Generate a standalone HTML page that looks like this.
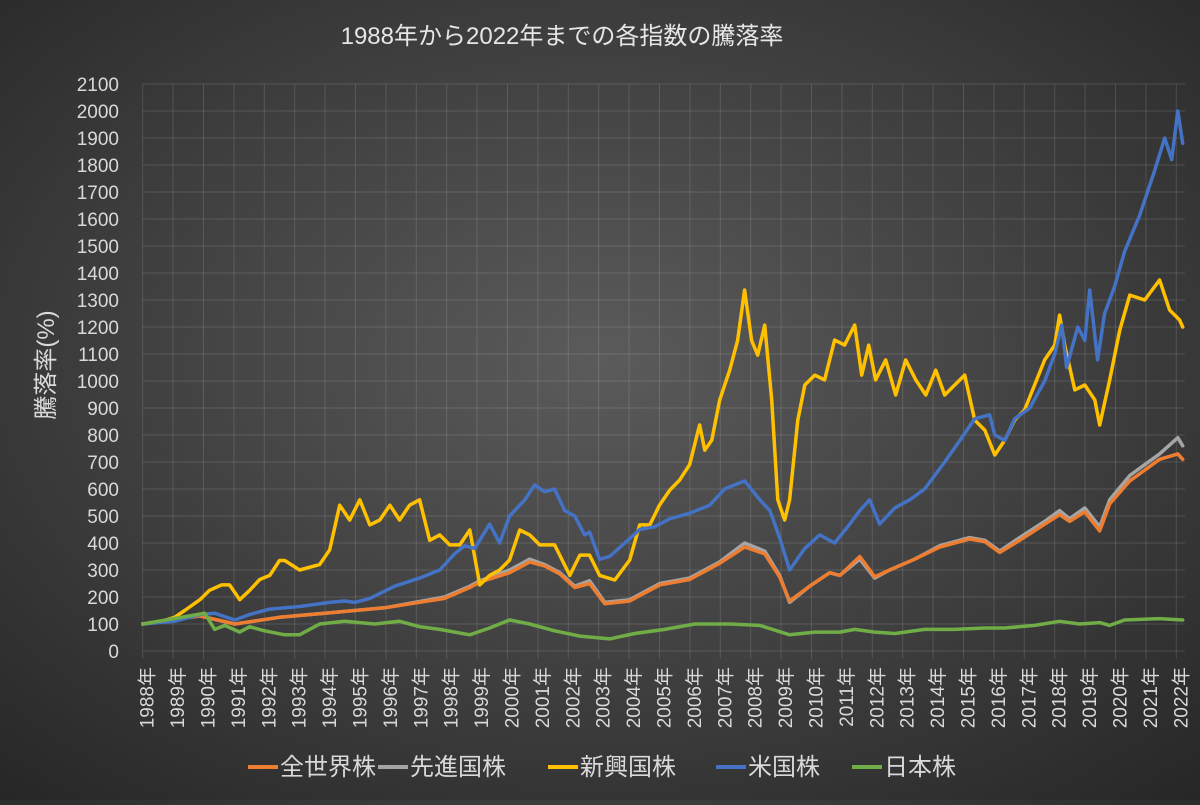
<!DOCTYPE html>
<html><head><meta charset="utf-8">
<style>
html,body{margin:0;padding:0;}
body{width:1200px;height:800px;overflow:hidden;background:radial-gradient(ellipse 75% 75% at 50% 45%,#5b5b5b 0%,#3e3e3e 55%,#262626 100%);font-family:"Liberation Sans","Noto Sans CJK JP",sans-serif;}
svg text{font-family:"Liberation Sans","Noto Sans CJK JP",sans-serif;}
</style></head>
<body>
<svg id="chart" width="1200" height="800" xmlns="http://www.w3.org/2000/svg">
<text x="562" y="44" text-anchor="middle" font-size="24" fill="#e6e6e6">1988年から2022年までの各指数の騰落率</text>
<text transform="translate(54,365) rotate(-90)" text-anchor="middle" font-size="24" fill="#d9d9d9">騰落率(%)</text>
<g id="grid"></g>
<g id="yticks"></g>
<g id="xticks"></g>
<g id="series"></g>
<g id="legend"></g>
</svg>
<script>
const yTicks=[0,100,200,300,400,500,600,700,800,900,1000,1100,1200,1300,1400,1500,1600,1700,1800,1900,2000,2100];
const xYears=[1988,1989,1990,1991,1992,1993,1994,1995,1996,1997,1998,1999,2000,2001,2002,2003,2004,2005,2006,2007,2008,2009,2010,2011,2012,2013,2014,2015,2016,2017,2018,2019,2020,2021,2022];
const seriesNames=["全世界株","先進国株","新興国株","米国株","日本株"];
const seriesColors=["#ed7d31","#a5a5a5","#ffc000","#4472c4","#70ad47"];

const devT=[0,1.88,3.03,4.5,5.99,7.96,9.93,10.76,11.09,12.07,12.73,13.22,13.72,14.21,14.7,15.2,16.02,17.01,17.99,18.98,19.8,20.46,20.95,21.28,21.94,22.6,22.93,23.59,24.08,24.57,25.39,26.22,27.2,27.7,28.19,28.85,29.67,30.16,30.49,30.99,31.48,31.81,32.47,33.45,34.05,34.21];
const worldV=[100,130,100,125,140,160,195,235,255,290,330,315,285,235,250,175,185,245,265,325,385,360,275,185,240,290,280,350,275,300,340,385,415,405,365,410,470,505,480,515,445,545,630,710,730,710];
const devV=[100,130,100,125,140,160,200,240,260,300,340,320,290,240,260,180,190,250,270,330,400,370,280,180,240,290,280,340,270,300,340,390,420,410,370,420,480,520,490,530,460,560,650,730,790,760];
const emT=[0,0.56,1.05,1.38,1.88,2.2,2.6,2.86,3.19,3.52,3.85,4.18,4.5,4.67,5.16,5.82,6.15,6.48,6.81,7.14,7.47,7.8,8.13,8.45,8.78,9.11,9.44,9.77,10.1,10.43,10.76,11.09,11.41,11.74,12.07,12.4,12.73,13.06,13.55,14.05,14.38,14.7,15.03,15.53,16.02,16.35,16.68,17.0,17.34,17.66,17.99,18.32,18.49,18.72,18.98,19.31,19.57,19.8,20.03,20.23,20.46,20.69,20.89,21.12,21.28,21.55,21.78,22.11,22.43,22.76,23.09,23.42,23.65,23.88,24.11,24.44,24.77,25.1,25.43,25.76,26.09,26.38,26.71,27.04,27.37,27.7,28.03,28.36,28.68,29.01,29.34,29.67,30.0,30.16,30.33,30.66,30.99,31.32,31.48,31.81,32.14,32.47,32.96,33.45,33.78,34.11,34.21];
const emV=[100,107,125,150,190,225,245,245,190,225,265,280,335,335,300,320,375,540,485,560,467,485,540,485,540,560,410,430,393,393,448,245,280,300,337,448,430,393,393,280,355,355,280,263,337,467,467,540,596,633,690,837,744,781,930,1040,1150,1337,1150,1096,1207,930,560,485,560,855,985,1022,1004,1152,1133,1207,1022,1133,1004,1078,948,1078,1004,948,1040,948,985,1022,855,818,726,781,855,893,985,1078,1133,1244,1133,967,985,930,837,1004,1189,1318,1300,1374,1263,1226,1200];
const usT=[0,1.05,1.88,2.37,3.03,3.52,4.18,5.16,6.15,6.64,6.97,7.47,8.29,9.11,9.77,10.26,10.59,10.92,11.41,11.74,12.07,12.57,12.89,13.22,13.55,13.88,14.21,14.54,14.7,15.03,15.36,15.86,16.35,16.84,17.34,17.99,18.65,19.14,19.8,20.3,20.63,20.95,21.28,21.78,22.27,22.76,23.26,23.59,23.91,24.24,24.74,25.23,25.72,26.38,26.88,27.37,27.86,28.03,28.36,28.68,29.18,29.67,30.0,30.23,30.39,30.76,30.99,31.15,31.41,31.64,31.97,32.3,32.8,33.29,33.62,33.85,34.05,34.21];
const usV=[100,110,135,140,115,135,155,165,180,185,180,195,240,270,300,360,390,380,470,400,500,560,615,590,600,520,500,430,440,340,350,400,450,460,490,510,540,600,630,560,520,420,300,380,430,400,470,520,560,470,530,560,600,700,780,860,875,800,780,860,900,1000,1100,1207,1050,1200,1150,1337,1078,1250,1350,1480,1615,1780,1900,1820,2000,1880];
const jpT=[0,1.55,2.04,2.37,2.7,3.19,3.52,4.01,4.67,5.16,5.82,6.64,7.63,8.45,9.11,9.77,10.76,11.41,12.07,12.73,13.55,14.38,15.36,16.18,17.17,18.16,19.31,20.3,21.28,22.11,22.93,23.42,24.08,24.74,25.72,26.71,27.7,28.36,29.34,30.16,30.82,31.48,31.81,32.3,33.45,34.21];
const jpV=[100,130,140,80,95,70,90,75,60,60,100,110,100,110,90,80,60,85,115,100,75,55,45,65,80,100,100,95,60,70,70,80,70,65,80,80,85,85,95,110,100,105,95,115,120,115];

const X0=142.7, PX_PER_YEAR=30.4, Y0=651, PX_PER_UNIT=(651-84)/2100;
function xs(t){return X0+t*PX_PER_YEAR;}
function xYear(y){return xs(y-1988);}
function ys(v){return Y0-v*PX_PER_UNIT;}
const NS="http://www.w3.org/2000/svg";
function mk(tag,attrs,parent){const e=document.createElementNS(NS,tag);for(const k in attrs)e.setAttribute(k,attrs[k]);parent.appendChild(e);return e;}

const grid=document.getElementById('grid'),yt=document.getElementById('yticks'),xt=document.getElementById('xticks');
const right=1185;
yTicks.forEach(v=>{
  const l=mk('line',{x1:X0,x2:right,y1:ys(v),y2:ys(v),stroke:'rgba(255,255,255,0.13)','stroke-width':1},grid);
  
  
  const t=mk('text',{x:119,y:ys(v)+7,'text-anchor':'end','font-size':19,fill:'#d9d9d9'},yt);
  t.textContent=v;
  
  
});
xYears.forEach(y=>{
  const x=xYear(y);
  const l=mk('line',{x1:x,x2:x,y1:ys(2100),y2:ys(0)+8,stroke:'rgba(255,255,255,0.13)','stroke-width':1},grid);
  
  
  const t=mk('text',{transform:`translate(${x+11},667) rotate(-90)`,'text-anchor':'end','font-size':19,fill:'#d9d9d9'},xt);
  t.textContent=y+'年';
  
  
});

const sg=document.getElementById('series');
const seriesT=[devT,devT,emT,usT,jpT];
const seriesV=[worldV,devV,emV,usV,jpV];
const order=[1,0,2,3,4];
order.forEach(i=>{
  const T=seriesT[i],V=seriesV[i];
  const d=T.map((t,k)=>(k?'L':'M')+xs(t).toFixed(1)+','+ys(V[k]).toFixed(1)).join('');
  const p=mk('path',{d:d,fill:'none',stroke:seriesColors[i],'stroke-width':3.5,'stroke-linejoin':'round','stroke-linecap':'round'},sg);
  
  
});

const lg=document.getElementById('legend');
const legX=[248,378,548,716,852];
seriesNames.forEach((n,i)=>{
  const l=mk('line',{x1:legX[i],x2:legX[i]+30,y1:767,y2:767,stroke:seriesColors[i],'stroke-width':4},lg);
  
  
  const t=mk('text',{x:legX[i]+32,y:775,'font-size':24,fill:'#d9d9d9'},lg);
  t.textContent=n;
  
  
});
</script>
</body></html>
